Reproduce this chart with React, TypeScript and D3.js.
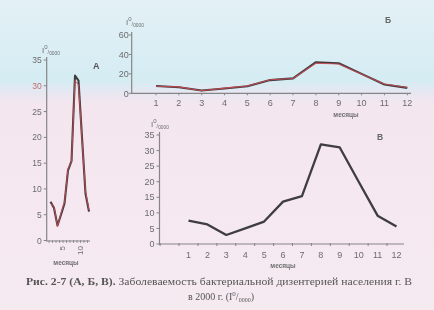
import React from "react";
import * as d3 from "d3";

const months = [1, 2, 3, 4, 5, 6, 7, 8, 9, 10, 11, 12];
const incidence = [7.5, 6.3, 2.9, 5.0, 7.2, 13.6, 15.4, 32, 31, 20, 9.1, 5.6];
const incidenceRed = [7.2, 6.6, 2.7, 5.3, 7.5, 13.9, 15.2, 31, 30.2, 19.6, 9.6, 5.9];
const yTicksA = [0, 5, 10, 15, 20, 25, 30, 35];
const xLabelsA = [5, 10];
const yTicksB = [0, 20, 40, 60];
const yTicksC = [0, 5, 10, 15, 20, 25, 30, 35];
const axisWord = "месяцы";
const captionBold = "Рис. 2-7 (А, Б, В).";
const captionRest = " Заболеваемость бактериальной дизентерией населения г. В";
const captionLine2 = "в 2000 г. (I";

const SANS = "'Liberation Sans', Arial, sans-serif";
const SERIF = "'Liberation Serif', 'Times New Roman', serif";
const AX = "#858585";
const TXT = "#6c6c6c";
const LINE = "#3e3e42";
const RED = "#d24a52";

function Unit({ x, y, fs }: { x: number; y: number; fs: number }) {
  return (
    <text x={x} y={y} fontFamily={SANS} fontSize={fs} fill={TXT}>
      I
      <tspan dy={-fs * 0.45} fontSize={fs * 0.75}>0</tspan>
      <tspan dy={fs * 0.55} fontSize={fs * 0.7}>/</tspan>
      <tspan dy={fs * 0.1} fontSize={fs * 0.6}>0000</tspan>
    </text>
  );
}

export default function App() {
  // Panel A
  const xA = d3.scaleLinear().domain([1, 12]).range([50.5, 89]);
  const yA = d3.scaleLinear().domain([0, 35]).range([240.5, 60]);
  // Panel Б
  const xB = d3.scaleLinear().domain([1, 12]).range([156, 407.3]);
  const yB = d3.scaleLinear().domain([0, 60]).range([93.3, 35]);
  // Panel В
  const xC = d3.scaleLinear().domain([1, 12]).range([188.5, 396.5]);
  const yC = d3.scaleLinear().domain([0, 35]).range([244, 135]);

  const mk = (xs: d3.ScaleLinear<number, number>, ys: d3.ScaleLinear<number, number>, vals: number[]) =>
    d3.line<number>().x((_, i) => xs(months[i])).y((v) => ys(v)).curve(d3.curveLinear)(vals) || "";

  const axA = 46.7;
  const axB = 131.7;
  const axC = 159.5;

  return (
    <svg
      width={434}
      height={310}
      style={{ position: "absolute", left: 0, top: 0, display: "block" }}
    >
      <defs>
        <linearGradient id="bg" x1="0" y1="0" x2="0" y2="1">
          <stop offset="0" stopColor="#e3f1f6" />
          <stop offset="0.26" stopColor="#d5ecf3" />
          <stop offset="0.3" stopColor="#e8e7f1" />
          <stop offset="0.34" stopColor="#f4e6ef" />
          <stop offset="1" stopColor="#f6eaf1" />
        </linearGradient>
        <filter id="blur" x="-5%" y="-5%" width="110%" height="110%">
          <feGaussianBlur stdDeviation="0.35" />
        </filter>
      </defs>
      <rect x={0} y={0} width={434} height={310} fill="url(#bg)" />

      <g filter="url(#blur)">
        {/* ===== Panel A ===== */}
        <line x1={axA} x2={axA} y1={57} y2={241.5} stroke={AX} strokeWidth={1.2} />
        <line x1={axA} x2={90} y1={241} y2={241} stroke={AX} strokeWidth={1.2} />
        {yTicksA.map((t) => (
          <g key={"ya" + t}>
            <line x1={axA - 3} x2={axA} y1={yA(t)} y2={yA(t)} stroke={AX} strokeWidth={1} />
            <text x={axA - 5} y={yA(t) + 3} textAnchor="end" fontFamily={SANS} fontSize={8.5} fill={t === 30 ? "#c46a6e" : TXT}>
              {t}
            </text>
          </g>
        ))}
        {months.map((m) => (
          <line key={"xa" + m} x1={xA(m) - 1.5} x2={xA(m) - 1.5} y1={240} y2={243} stroke={AX} strokeWidth={0.8} />
        ))}
        {xLabelsA.map((m) => (
          <text
            key={"xla" + m}
            transform={`translate(${xA(m) - 2},${246}) rotate(-90)`}
            textAnchor="end"
            dy="0.35em"
            fontFamily={SANS}
            fontSize={8}
            fill={TXT}
          >
            {m}
          </text>
        ))}
        <path d={mk(xA, yA, incidence)} fill="none" stroke={LINE} strokeWidth={2.1} strokeLinejoin="round" />
        <path d={mk(xA, yA, incidenceRed)} fill="none" stroke={RED} strokeWidth={1} strokeLinejoin="round" opacity={0.85} />
        <Unit x={42} y={53} fs={8} />
        <text x={93} y={69} fontFamily={SANS} fontSize={9} fontWeight="bold" fill="#555">А</text>
        <text x={66} y={265} textAnchor="middle" fontFamily={SANS} fontSize={6.5} fontWeight="bold" fill="#707070">
          {axisWord}
        </text>

        {/* ===== Panel Б ===== */}
        <line x1={axB} x2={axB} y1={32} y2={94} stroke={AX} strokeWidth={1.2} />
        <line x1={axB} x2={411} y1={yB(0)} y2={yB(0)} stroke={AX} strokeWidth={1.2} />
        {yTicksB.map((t) => (
          <g key={"yb" + t}>
            <line x1={axB - 3} x2={axB} y1={yB(t)} y2={yB(t)} stroke={AX} strokeWidth={1} />
            <text x={axB - 3} y={yB(t) + 3.2} textAnchor="end" fontFamily={SANS} fontSize={9} fill={TXT}>
              {t}
            </text>
          </g>
        ))}
        {months.map((m) => (
          <g key={"xb" + m}>
            <line x1={xB(m)} x2={xB(m)} y1={yB(0)} y2={yB(0) + 2} stroke={AX} strokeWidth={1} />
            <text x={xB(m)} y={106} textAnchor="middle" fontFamily={SANS} fontSize={9} fill={TXT}>
              {m}
            </text>
          </g>
        ))}
        <path d={mk(xB, yB, incidence)} fill="none" stroke={LINE} strokeWidth={2.1} strokeLinejoin="round" />
        <path d={mk(xB, yB, incidenceRed)} fill="none" stroke={RED} strokeWidth={1.1} strokeLinejoin="round" opacity={0.85} />
        <Unit x={126} y={25} fs={8} />
        <text x={385} y={23} fontFamily={SANS} fontSize={8.5} fontWeight="bold" fill="#666">Б</text>
        <text x={346} y={117} textAnchor="middle" fontFamily={SANS} fontSize={6.5} fontWeight="bold" fill="#707070">
          {axisWord}
        </text>

        {/* ===== Panel В ===== */}
        <line x1={axC} x2={axC} y1={132} y2={245} stroke={AX} strokeWidth={1.2} />
        <line x1={axC} x2={404} y1={yC(0)} y2={yC(0)} stroke={AX} strokeWidth={1.2} />
        {yTicksC.map((t) => (
          <g key={"yc" + t}>
            <line x1={axC - 3} x2={axC} y1={yC(t)} y2={yC(t)} stroke={AX} strokeWidth={1} />
            <text x={axC - 5} y={yC(t) + 3.2} textAnchor="end" fontFamily={SANS} fontSize={9} fill={TXT}>
              {t}
            </text>
          </g>
        ))}
        {[0, ...months].map((m) => (
          <line key={"xct" + m} x1={xC(m - 0.5)} x2={xC(m - 0.5)} y1={yC(0) - 1} y2={yC(0) + 2} stroke={AX} strokeWidth={1} />
        ))}
        {months.map((m) => (
          <text key={"xc" + m} x={xC(m)} y={257.5} textAnchor="middle" fontFamily={SANS} fontSize={9} fill={TXT}>
            {m}
          </text>
        ))}
        <path d={mk(xC, yC, incidence)} fill="none" stroke={LINE} strokeWidth={2.3} strokeLinejoin="round" />
        <Unit x={151} y={127} fs={8} />
        <text x={377} y={140} fontFamily={SANS} fontSize={8.5} fontWeight="bold" fill="#666">В</text>
        <text x={283} y={268} textAnchor="middle" fontFamily={SANS} fontSize={6.5} fontWeight="bold" fill="#707070">
          {axisWord}
        </text>

        {/* ===== Caption ===== */}
        <text x={26} y={285} fontFamily={SERIF} fontSize={10} fill="#555" textLength={386} lengthAdjust="spacingAndGlyphs">
          <tspan fontWeight="bold">{captionBold}</tspan>
          <tspan>{captionRest}</tspan>
        </text>
        <text x={188} y={300} fontFamily={SERIF} fontSize={10} fill="#555">
          {captionLine2}
          <tspan dy={-4} fontSize={7}>0</tspan>
          <tspan dy={4}>/</tspan>
          <tspan dy={2} fontSize={6}>0000</tspan>
          <tspan dy={-2}>)</tspan>
        </text>
      </g>
    </svg>
  );
}
